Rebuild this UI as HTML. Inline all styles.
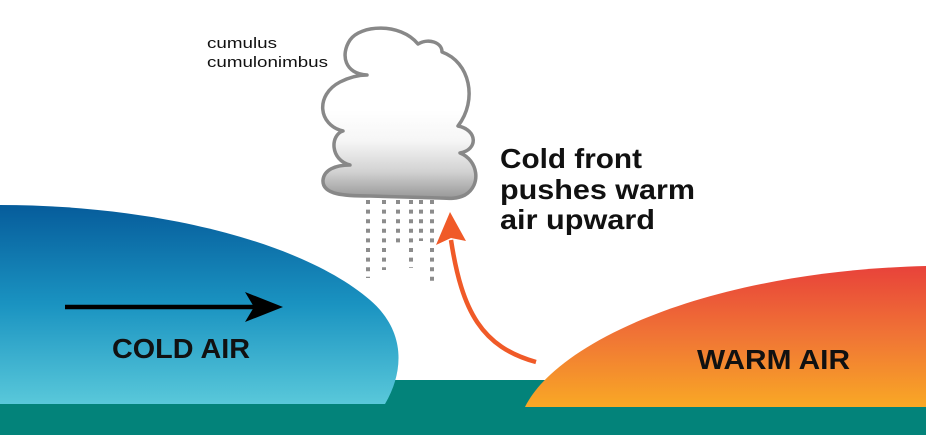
<!DOCTYPE html>
<html>
<head>
<meta charset="utf-8">
<style>
  html, body { margin:0; padding:0; background:#ffffff; }
  body { width:926px; height:436px; overflow:hidden; }
  svg { display:block; }
  text { font-family: "Liberation Sans", "DejaVu Sans", sans-serif; }
</style>
</head>
<body>
<svg width="926" height="436" viewBox="0 0 926 436" xmlns="http://www.w3.org/2000/svg">
  <defs>
    <linearGradient id="cold" x1="0" y1="205" x2="0" y2="404" gradientUnits="userSpaceOnUse">
      <stop offset="0" stop-color="#065c9b"/>
      <stop offset="0.5" stop-color="#1a93c1"/>
      <stop offset="1" stop-color="#59c8da"/>
    </linearGradient>
    <linearGradient id="warm" x1="0" y1="266" x2="0" y2="407" gradientUnits="userSpaceOnUse">
      <stop offset="0" stop-color="#e8423a"/>
      <stop offset="0.5" stop-color="#f07535"/>
      <stop offset="1" stop-color="#f9a825"/>
    </linearGradient>
    <linearGradient id="cloud" x1="0" y1="110" x2="0" y2="198" gradientUnits="userSpaceOnUse">
      <stop offset="0" stop-color="#ffffff"/>
      <stop offset="0.35" stop-color="#f6f6f6"/>
      <stop offset="0.7" stop-color="#d2d2d2"/>
      <stop offset="1" stop-color="#989898"/>
    </linearGradient>
  </defs>

  <!-- ground -->
  <rect x="0" y="380" width="926" height="55" fill="#03837a"/>

  <!-- cold air mass -->
  <path d="M 0 205 C 150 205, 300 240, 370 300 C 405 330, 405 370, 385 404 L 0 404 Z" fill="url(#cold)"/>

  <!-- warm air mass -->
  <path d="M 525 407 C 555 345, 700 272, 926 266 L 926 407 Z" fill="url(#warm)"/>

  <!-- black arrow -->
  <line x1="65" y1="307" x2="255" y2="307" stroke="#000" stroke-width="4.5"/>
  <polygon points="283,307 245,292 254,307 245,322" fill="#000"/>

  <!-- labels -->
  <text x="112" y="358" font-size="28" font-weight="bold" fill="#111" textLength="138" lengthAdjust="spacingAndGlyphs">COLD AIR</text>
  <text x="697" y="369" font-size="28" font-weight="bold" fill="#111" textLength="153" lengthAdjust="spacingAndGlyphs">WARM AIR</text>

  <!-- rain -->
  <g stroke="#8c8c8c" stroke-width="4" stroke-dasharray="4 5.6" fill="none">
    <line x1="368" y1="200" x2="368" y2="278"/>
    <line x1="384" y1="200" x2="384" y2="270"/>
    <line x1="398" y1="200" x2="398" y2="245"/>
    <line x1="411" y1="200" x2="411" y2="268"/>
    <line x1="421" y1="200" x2="421" y2="241"/>
    <line x1="432" y1="200" x2="432" y2="282"/>
  </g>

  <!-- cloud -->
  <path d="M 367 75
           C 345 74, 340 55, 350 40
           C 360 25, 400 22, 418 44
           C 428 38, 442 42, 442 52
           C 470 62, 478 100, 458 126
           C 478 130, 478 150, 460 153
           C 478 160, 482 185, 465 195
           C 455 200, 445 198, 440 198
           L 370 196
           C 345 196, 322 195, 323 180
           C 324 170, 335 165, 350 165
           C 330 160, 330 135, 343 131
           C 318 125, 315 95, 340 82
           C 350 77, 360 75, 367 75 Z"
        fill="url(#cloud)" stroke="#888888" stroke-width="3.5" stroke-linejoin="round"/>

  <!-- cloud labels -->
  <text x="207" y="48" font-size="15" fill="#111" textLength="70" lengthAdjust="spacingAndGlyphs">cumulus</text>
  <text x="207" y="67" font-size="15" fill="#111" textLength="121" lengthAdjust="spacingAndGlyphs">cumulonimbus</text>

  <!-- orange arrow -->
  <path d="M 536 362 C 482 347, 462 312, 451 240" stroke="#f05a28" stroke-width="4.5" fill="none"/>
  <polygon points="450,212 436,245 451,238 466,241" fill="#f05a28"/>

  <!-- right text -->
  <text x="500" y="168" font-size="28" font-weight="bold" fill="#111" textLength="142" lengthAdjust="spacingAndGlyphs">Cold front</text>
  <text x="500" y="199" font-size="28" font-weight="bold" fill="#111" textLength="195" lengthAdjust="spacingAndGlyphs">pushes warm</text>
  <text x="500" y="229" font-size="28" font-weight="bold" fill="#111" textLength="155" lengthAdjust="spacingAndGlyphs">air upward</text>
</svg>
</body>
</html>
